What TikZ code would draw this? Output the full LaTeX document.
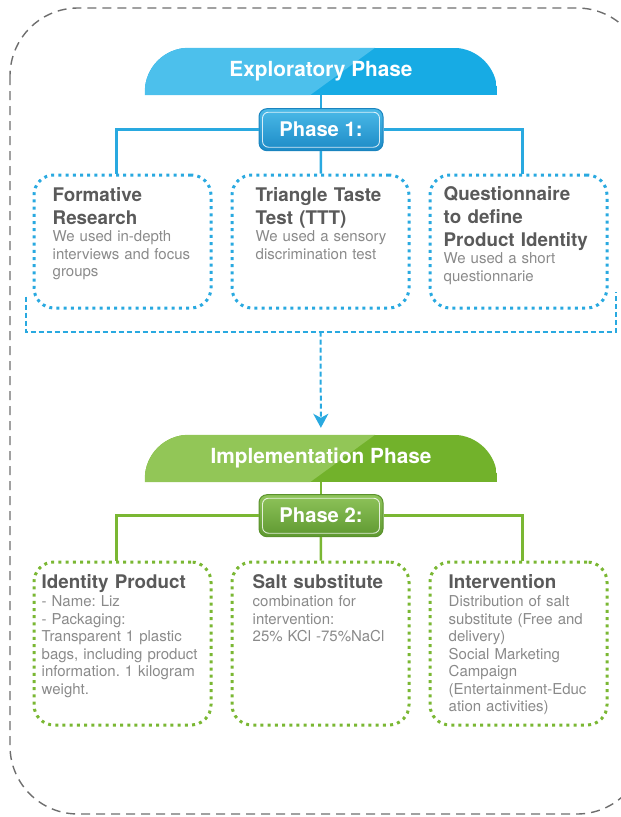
\documentclass[tikz,border=0pt]{standalone}
\usepackage{fontspec}
\setmainfont{TeX Gyre Heros}
\usepackage{xcolor}
\usetikzlibrary{arrows.meta, positioning, backgrounds}

\definecolor{cyanline}{HTML}{29A9E0}
\definecolor{bluebanner}{HTML}{17ABE4}
\definecolor{bluelight}{HTML}{4CC0EC}
\definecolor{phtopblue}{HTML}{4BBAE8}
\definecolor{phbotblue}{HTML}{1C8AC6}
\definecolor{phedgeblue}{HTML}{1A84BF}
\definecolor{greenline}{HTML}{7AB733}
\definecolor{greenbanner}{HTML}{72B22B}
\definecolor{greenlight}{HTML}{92C657}
\definecolor{phtopgreen}{HTML}{8FC45A}
\definecolor{phbotgreen}{HTML}{5E9830}
\definecolor{phedgegreen}{HTML}{5A922C}
\definecolor{titlegray}{HTML}{5A5A5A}
\definecolor{bodygray}{HTML}{8A8A8A}
\definecolor{framegray}{HTML}{6E6E6E}

\begin{document}
\begin{tikzpicture}[x=1pt, y=-1pt,
        >={Stealth[length=14pt, width=15pt, inset=4pt]},
        banner/.style={rectangle, minimum width=352pt, minimum height=47pt, text=white,
                font=\fontsize{20.8}{25}\selectfont\bfseries},
        phasebox/.style={rectangle, rounded corners=8pt, minimum width=124pt, minimum height=42pt,
                line width=1pt, text=white, font=\fontsize{20.2}{24}\selectfont\bfseries},
        stepbox/.style={rectangle, rounded corners=20pt, minimum width=177pt, line width=3pt,
                dash pattern=on 3pt off 4.2pt},
        boxtitle/.style={anchor=base west, align=left, text width=170pt, inner sep=0pt, text=titlegray,
                font=\fontsize{18.8}{23}\selectfont\bfseries\frenchspacing},
        boxbody/.style={anchor=base west, align=left, text width=170pt, inner sep=0pt, text=bodygray,
                font=\fontsize{15}{17.5}\selectfont\frenchspacing},
        link/.style={line width=2.6pt},
        bracket/.style={color=cyanline, line width=2pt, dash pattern=on 5pt off 3pt}, ]

        \useasboundingbox (0,0) rectangle (621,817);

        % === OUTER FRAME ===
        \begin{scope}
            \clip (0,0) rectangle (621,817);
            \draw[framegray, line width=1.4pt, dash pattern=on 9pt off 6pt, rounded corners=68pt]
            (10,8) rectangle (645,814);
        \end{scope}

        % === EXPLORATORY PHASE ===
        \node[banner] (expl) at (321,71.5) {Exploratory Phase};
        \node[phasebox, top color=phtopblue, bottom color=phbotblue, draw=phedgeblue,
            below=13pt of expl] (ph1) {Phase 1:};

        \node[stepbox, draw=cyanline, minimum height=133pt] (b2) at (320.5,241.5) {};
        \node[stepbox, draw=cyanline, minimum height=133pt, left=18pt of b2] (b1) {};
        \node[stepbox, draw=cyanline, minimum height=133pt, right=18pt of b2] (b3) {};

        \node[boxtitle] (t1) at ([shift={(20,28)}]b1.north west) {Formative\\Research};
        \node[boxbody] (d1) at ([shift={(20,68)}]b1.north west) {We used in-depth\\interviews and focus\\groups};
        \node[boxtitle] (t2) at ([shift={(25,28)}]b2.north west) {Triangle Taste\\Test (TTT)};
        \node[boxbody] (d2) at ([shift={(25,68)}]b2.north west) {We used a sensory\\discrimination test};
        \node[boxtitle] (t3) at ([shift={(15,27)}]b3.north west) {Questionnaire\\to define\\Product Identity};
        \node[boxbody] (d3) at ([shift={(15,90)}]b3.north west) {We used a short\\questionnarie};

        % Phase 1 connections
        \draw[link, cyanline] (expl) -- (ph1);
        \draw[link, cyanline] (ph1) -- (b2);
        \draw[link, cyanline] (ph1.west) -| ([xshift=-6pt]b1.north);
        \draw[link, cyanline] (ph1.east) -| ([xshift=4pt]b3.north);

        % Bracket and arrow down
        \coordinate (brL) at ([shift={(-7,-13)}]b1.south west);
        \coordinate (brR) at ([shift={(7,-18)}]b3.south east);
        \coordinate (brM) at ([shift={(0,22)}]b2.south);
        \draw[bracket] (brL) |- (brM) -| (brR);

        % === IMPLEMENTATION PHASE ===
        \node[banner] (impl) at (321,458.5) {Implementation Phase};
        \node[phasebox, top color=phtopgreen, bottom color=phbotgreen, draw=phedgegreen,
            below=12pt of impl] (ph2) {Phase 2:};

        \draw[bracket, ->, shorten >=7pt] (brM) -- (impl);

        \node[stepbox, draw=greenline, minimum height=163pt] (g2) at (320.5,643.5) {};
        \node[stepbox, draw=greenline, minimum height=163pt, left=18pt of g2] (g1) {};
        \node[stepbox, draw=greenline, minimum height=163pt, right=18pt of g2] (g3) {};

        \node[boxtitle] (s1) at ([shift={(9,28)}]g1.north west) {Identity Product};
        \node[boxbody] (e1) at ([shift={(9,46)}]g1.north west)
        {- Name: Liz\\- Packaging:\\Transparent 1 plastic\\bags, including product\\information. 1 kilogram\\weight.};
        \node[boxtitle] (s2) at ([shift={(22,28)}]g2.north west) {Salt substitute};
        \node[boxbody] (e2) at ([shift={(22,46)}]g2.north west)
        {combination for\\intervention:\\25\% KCl -75\%NaCl};
        \node[boxtitle] (s3) at ([shift={(20,28)}]g3.north west) {Intervention};
        \node[boxbody] (e3) at ([shift={(20,46)}]g3.north west)
        {Distribution of salt\\substitute (Free and\\delivery)\\Social Marketing\\Campaign\\(Entertainment-Educ\\ation activities)};

        % Phase 2 connections
        \draw[link, greenline] (impl) -- (ph2);
        \draw[link, greenline] (ph2) -- (g2);
        \draw[link, greenline] (ph2.west) -| ([xshift=-6pt]g1.north);
        \draw[link, greenline] (ph2.east) -| ([xshift=4pt]g3.north);

        % Banner shapes and inner rims
        \begin{scope}[on background layer]
            \foreach \ban/\dark/\light in {expl/bluebanner/bluelight, impl/greenbanner/greenlight} {
                    \begin{scope}
                        \clip[rounded corners=44pt] (\ban.south west) -- (\ban.north west)
                        -- (\ban.north east) -- (\ban.south east);
                        \fill[\dark] (\ban.south west) rectangle (\ban.north east);
                        \fill[\light] (\ban.south west) -- (\ban.north west) -- ([xshift=54pt]\ban.north)
                        -- ([xshift=-11pt]\ban.south) -- cycle;
                    \end{scope}
                }
        \end{scope}
        \foreach \ph in {ph1, ph2} {
                \draw[white, opacity=0.8, line width=0.9pt, rounded corners=6pt]
                ([shift={(4,-4)}]\ph.south west) rectangle ([shift={(-4,4)}]\ph.north east);
            }
    \end{tikzpicture}
\end{document}
